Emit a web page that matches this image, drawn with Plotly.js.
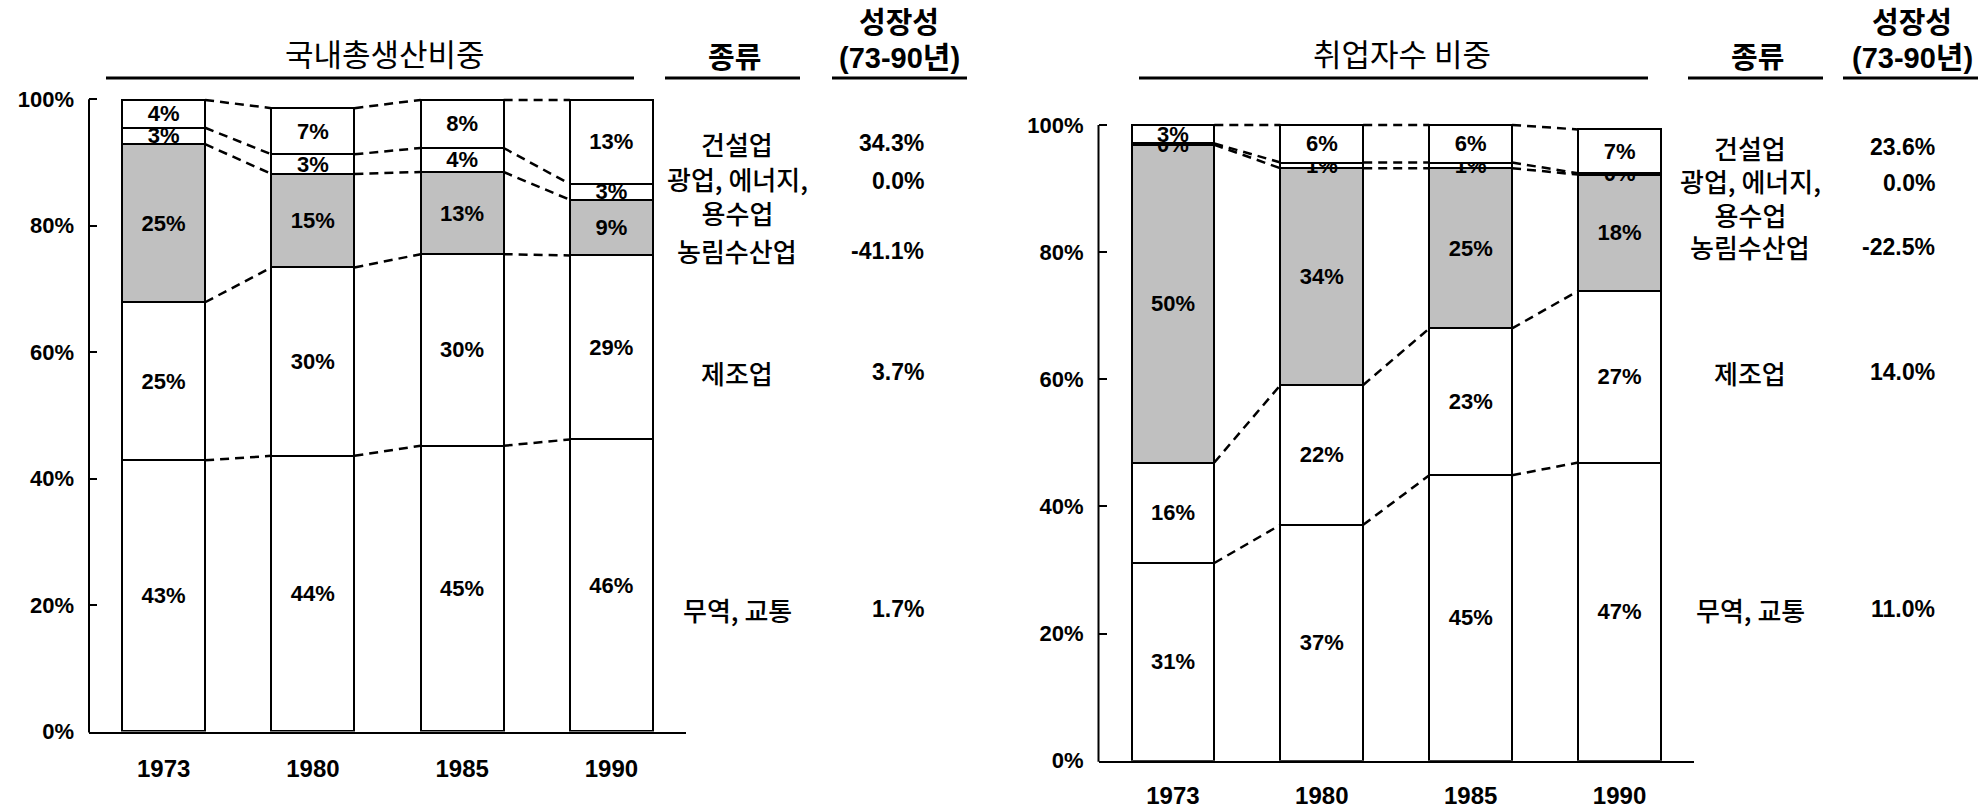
<!DOCTYPE html>
<html><head><meta charset="utf-8">
<script src="https://cdn.plot.ly/plotly-3.0.1.min.js"></script>
<style>html,body{margin:0;padding:0;background:#fff}#chart{width:1984px;height:808px}</style>
</head><body><div id="chart"></div>
<script>
// ---------- DATA ----------
const years = ['1973', '1980', '1985', '1990'];
// stacking order bottom -> top
const sectorNames = ['무역, 교통', '제조업', '농림수산업', '광업, 에너지, 용수업', '건설업'];
const sectorColors = ['#ffffff', '#ffffff', '#c0c0c0', '#ffffff', '#ffffff'];

// 국내총생산비중 (GDP share, %)
const gdpTrade  = [42.9, 43.6, 45.2, 46.2];
const gdpMfg    = [25.0, 29.8, 30.3, 29.1];
const gdpAgri   = [25.0, 14.8, 13.0, 8.8];
const gdpMining = [2.6, 3.1, 3.8, 2.5];
const gdpConstr = [4.4, 7.3, 7.6, 13.3];

// 취업자수 비중 (employment share, %)
const empTrade  = [31.1, 37.1, 44.9, 46.9];
const empMfg    = [15.8, 22.0, 23.1, 27.0];
const empAgri   = [50.0, 34.1, 25.2, 18.3];
const empMining = [0.2, 0.9, 0.9, 0.2];
const empConstr = [2.9, 5.9, 5.9, 6.9];

// table (top -> bottom rows)
const tableLabels = ['건설업', '광업, 에너지,<br>용수업', '농림수산업', '제조업', '무역, 교통'];
const gdpGrowth = [34.3, 0.0, -41.1, 3.7, 1.7];
const empGrowth = [23.6, 0.0, -22.5, 14.0, 11.0];

const yTickVals = [0, 20, 40, 60, 80, 100];
const yTickText = ['0%', '20%', '40%', '60%', '80%', '100%'];

// ---------- LAYOUT HELPERS ----------
const W = 1984, H = 808;
const px = x => x / W;
const py = y => 1 - y / H;
const NUM = 'Liberation Sans, Arial, sans-serif';
const KR = 'Noto Sans CJK KR, sans-serif';
const BAR_W = 0.556;
const Y_MAX = 100.6;   // small headroom so the 100% outlines are not clipped
const idx = years.map((_, i) => i);

function buildChart(series, xa, ya) {
  const traces = [];
  series.forEach((vals, k) => {
    traces.push({
      type: 'bar', x: idx, y: vals, xaxis: xa, yaxis: ya,
      name: sectorNames[k], width: BAR_W,
      marker: {color: sectorColors[k], line: {color: '#000', width: 2}},
      text: vals.map(v => Math.round(v) + '%'),
      textposition: 'inside', insidetextanchor: 'middle', textangle: 0,
      textfont: {family: NUM, size: 22, color: '#000', weight: 700},
      cliponaxis: false, hoverinfo: 'skip', showlegend: false
    });
  });
  // dashed connectors between cumulative boundaries
  const cum = years.map(() => 0);
  series.forEach((vals) => {
    vals.forEach((v, i) => { cum[i] += v; });
    const xs = [], ys = [];
    for (let i = 0; i < years.length - 1; i++) {
      xs.push(i + BAR_W / 2, i + 1 - BAR_W / 2, null);
      ys.push(cum[i], cum[i + 1], null);
    }
    traces.push({
      type: 'scatter', mode: 'lines', x: xs, y: ys, xaxis: xa, yaxis: ya,
      line: {color: '#000', width: 2.5, dash: '9px,6px'},
      hoverinfo: 'skip', showlegend: false, cliponaxis: false
    });
  });
  return traces;
}

const traces = [].concat(
  buildChart([gdpTrade, gdpMfg, gdpAgri, gdpMining, gdpConstr], 'x', 'y'),
  buildChart([empTrade, empMfg, empAgri, empMining, empConstr], 'x2', 'y2')
);

function xAxis(domain, anchor, standoff) {
  return {
    domain: domain, anchor: anchor, range: [-0.5, 3.5],
    tickvals: idx, ticktext: years, ticks: '', ticklabelstandoff: standoff,
    showline: true, linecolor: '#000', linewidth: 2,
    showgrid: false, zeroline: false, fixedrange: true,
    tickfont: {family: NUM, size: 24, color: '#000', weight: 700}
  };
}
// y0: pixel of 0%, y100: pixel of 100%
function yAxis(y0, y100, anchor) {
  const top = y0 - (Y_MAX / 100) * (y0 - y100);
  return {
    domain: [1 - y0 / H, 1 - top / H], anchor: anchor, range: [0, Y_MAX],
    tickvals: yTickVals, ticktext: yTickText,
    ticks: 'inside', ticklen: 8, tickwidth: 2, tickcolor: '#000',
    ticklabelstandoff: 14,
    showline: false, linecolor: '#000', linewidth: 2,
    showgrid: false, zeroline: false, fixedrange: true,
    tickfont: {family: NUM, size: 22, color: '#000', weight: 700}
  };
}

const annotations = [];
const shapes = [];
function addText(text, x, y, opts) {
  annotations.push(Object.assign({
    text: text, x: px(x), y: py(y), xref: 'paper', yref: 'paper',
    showarrow: false, xanchor: 'center', yanchor: 'middle'
  }, opts));
}
function addRule(x0, x1, y0, y1, w) {
  shapes.push({type: 'line', xref: 'paper', yref: 'paper',
    x0: px(x0), x1: px(x1), y0: py(y0), y1: py(y1),
    line: {color: '#000', width: w}});
}

function addPanel(title, titleX, titleRule, typeX, typeRule, growthX, growthRule,
                  labelX, valueX, rowY, valueY, growth, axisX, y0, y100) {
  // y axis line from 0% to 100% only
  addRule(axisX, axisX, y0 + 1, y100, 2);
  addText(title, titleX, 52, {font: {family: KR, size: 31, color: '#000'}});
  addRule(titleRule[0], titleRule[1], 78, 78, 3);
  addText('종류', typeX, 55, {font: {family: KR, size: 29, color: '#000', weight: 700}});
  addRule(typeRule[0], typeRule[1], 78, 78, 3);
  addText('성장성', growthX, 20, {font: {family: KR, size: 29, color: '#000', weight: 700}});
  addText('(73-90<span style="font-family:Noto Sans CJK KR;font-size:30px">년</span>)', growthX, 55,
    {font: {family: NUM, size: 29, color: '#000', weight: 700}});
  addRule(growthRule[0], growthRule[1], 78, 78, 3);
  tableLabels.forEach((lab, r) => {
    addText(lab, labelX, rowY[r], {font: {family: KR, size: 26, color: '#000', weight: 500}});
    addText(growth[r].toFixed(1) + '%', valueX, valueY[r],
      {xanchor: 'right', font: {family: NUM, size: 23, color: '#000', weight: 700}});
  });
}

addPanel('국내총생산비중', 385, [106, 634], 734, [665, 800], 899, [832, 967],
  737, 926, [143, 195, 251, 372, 609], [143, 181, 251, 372, 609], gdpGrowth, 89, 731.5, 99.3);
addPanel('취업자수 비중', 1402, [1139, 1648], 1757, [1688, 1823], 1912, [1843, 1978],
  1750, 1937, [147, 197, 247, 372, 609], [147, 183, 247, 372, 609], empGrowth, 1098.5, 760.7, 125);

const layout = {
  width: W, height: H, margin: {l: 0, r: 0, t: 0, b: 0},
  paper_bgcolor: '#fff', plot_bgcolor: 'rgba(0,0,0,0)',
  barmode: 'stack', bargap: 0,
  uniformtext: {mode: 'show', minsize: 22},
  font: {family: NUM, color: '#000'},
  xaxis: xAxis([px(89), px(686)], 'y', 15),
  yaxis: yAxis(731.5, 99.3, 'x'),
  xaxis2: xAxis([px(1098.5), px(1694)], 'y2', 12),
  yaxis2: yAxis(760.7, 125, 'x2'),
  annotations: annotations, shapes: shapes
};

Plotly.newPlot('chart', traces, layout, {staticPlot: true, displayModeBar: false});
</script>
</body></html>
